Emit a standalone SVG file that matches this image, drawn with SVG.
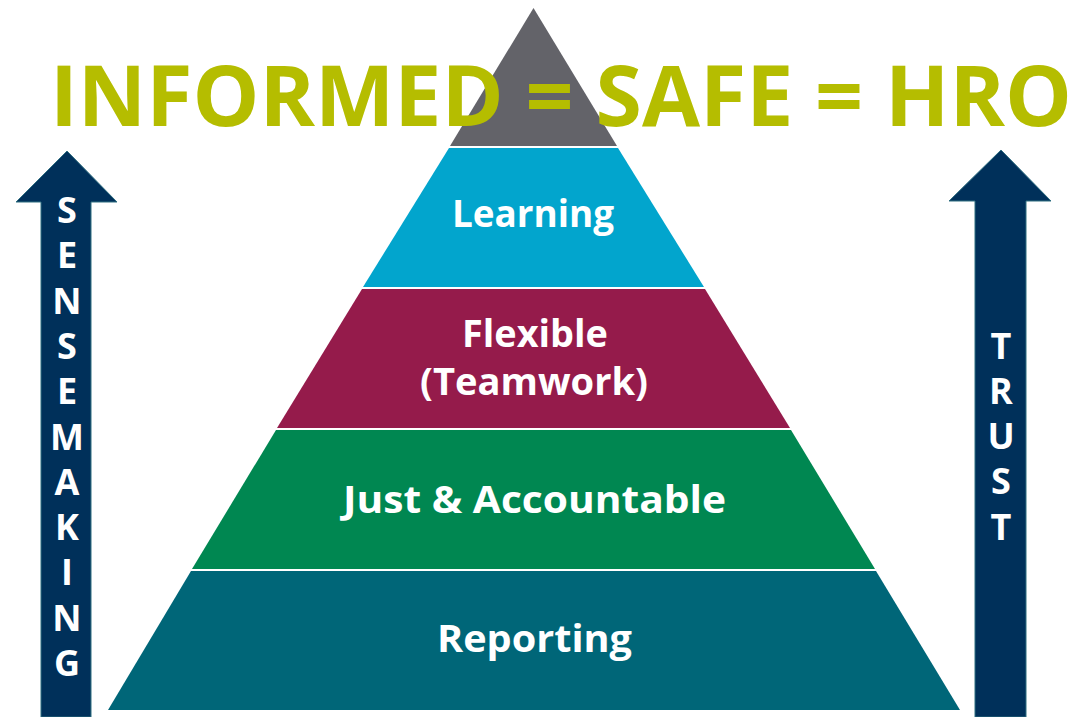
<svg xmlns="http://www.w3.org/2000/svg" width="1077" height="717" viewBox="0 0 1077 717">
<style>
.lbl{font-family:"Open Sans","Liberation Sans",sans-serif;font-weight:bold;fill:#FFFFFF;text-anchor:middle}
.band{font-size:38px}
.vert{font-size:36px}
.arrow{fill:#00305A;stroke:#2E6E80;stroke-width:1}
.title{font-family:"Open Sans","Liberation Sans",sans-serif;font-weight:bold;font-size:84px;fill:#B5BD00}
</style>
<rect width="1077" height="717" fill="#FFFFFF"/>
<g id="arrow-sensemaking">
<polygon class="arrow" points="67,151 117,202 91,202 91,717 41,717 41,202 16,202"/>
<text class="lbl vert" x="67" y="223">S</text>
<text class="lbl vert" x="67" y="268">E</text>
<text class="lbl vert" x="67" y="314">N</text>
<text class="lbl vert" x="67" y="359">S</text>
<text class="lbl vert" x="67" y="404">E</text>
<text class="lbl vert" x="67" y="450">M</text>
<text class="lbl vert" x="67" y="495">A</text>
<text class="lbl vert" x="67" y="540">K</text>
<text class="lbl vert" x="67" y="585">I</text>
<text class="lbl vert" x="67" y="631">N</text>
<text class="lbl vert" x="67" y="676">G</text>
</g>
<g id="arrow-trust">
<polygon class="arrow" points="1001,150 1051,201 1026,201 1026,717 975,717 975,201 949,201"/>
<text class="lbl vert" x="1001" y="359">T</text>
<text class="lbl vert" x="1001" y="404">R</text>
<text class="lbl vert" x="1001" y="449">U</text>
<text class="lbl vert" x="1001" y="494">S</text>
<text class="lbl vert" x="1001" y="540">T</text>
</g>
<g id="apex">
<polygon points="533.5,8 617,146 450,146" fill="#636369"/>
</g>
<g id="learning">
<polygon points="449,148 618,148 704,287 363,287" fill="#02A5CD"/>
<text class="lbl band" x="533" y="227" textLength="162" lengthAdjust="spacingAndGlyphs">Learning</text>
</g>
<g id="flexible">
<polygon points="362,289 705,289 790,428 277,428" fill="#951B4B"/>
<text class="lbl band" x="535" y="347" textLength="146" lengthAdjust="spacingAndGlyphs">Flexible</text>
<text class="lbl band" x="534" y="395" textLength="228" lengthAdjust="spacingAndGlyphs">(Teamwork)</text>
</g>
<g id="just">
<polygon points="276,430 791,430 875,569 192,569" fill="#008751"/>
<text class="lbl band" x="534.5" y="513" textLength="383" lengthAdjust="spacingAndGlyphs">Just &amp; Accountable</text>
</g>
<g id="reporting">
<polygon points="191,571 876,571 960,710 108,710" fill="#006678"/>
<text class="lbl band" x="534.5" y="652" textLength="195" lengthAdjust="spacingAndGlyphs">Reporting</text>
</g>
<g id="connectors"></g>
<g id="title">
<text class="title" x="50" y="126" textLength="1022" lengthAdjust="spacingAndGlyphs">INFORMED = SAFE = HRO</text>
</g>
</svg>
